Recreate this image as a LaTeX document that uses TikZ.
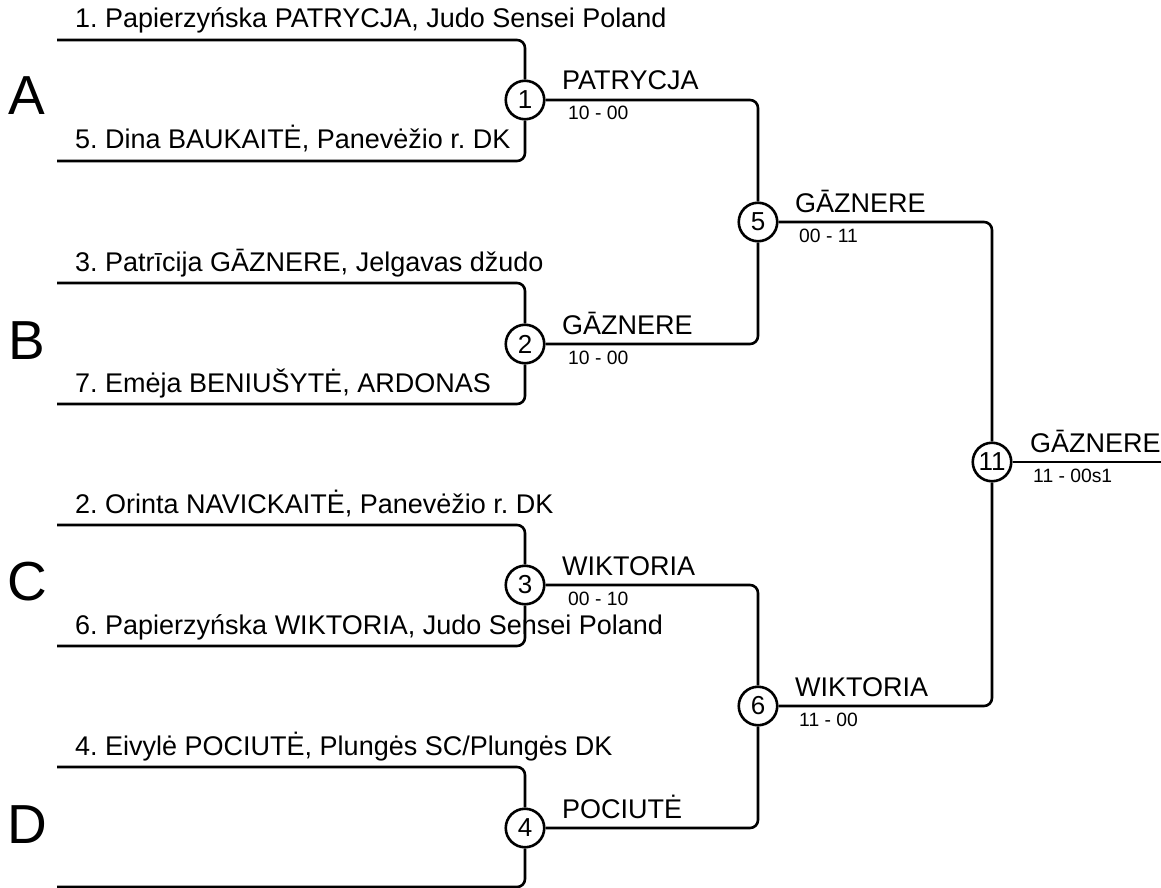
\documentclass[tikz,border=0pt]{standalone}
\usepackage{fontspec}
\setmainfont{Liberation Sans}
\frenchspacing
\begin{document}
\begin{tikzpicture}[x=1pt,y=-1pt,
  bline/.style={line width=2.6pt,rounded corners=8pt},
  bout/.style={circle,draw,line width=2.6pt,minimum size=38.5pt,inner sep=0pt,font=\fontsize{26}{26}\selectfont},
  player/.style={anchor=base west,inner sep=0pt,font=\fontsize{27}{28}\selectfont},
  winner/.style={anchor=base west,inner sep=0pt,font=\fontsize{27}{28}\selectfont},
  score/.style={anchor=base west,inner sep=0pt,font=\fontsize{19.3}{20}\selectfont},
  pool/.style={anchor=base,inner sep=0pt,font=\fontsize{55}{55}\selectfont}]
\useasboundingbox (0,0) rectangle (1161,888);
% start points
\coordinate (s1) at (57,40);
\coordinate (s5) at (57,161);
\coordinate (s3) at (57,283);
\coordinate (s7) at (57,404);
\coordinate (s2) at (57,525);
\coordinate (s6) at (57,646);
\coordinate (s4) at (57,767);
\coordinate (s8) at (57,887);
\coordinate (fin) at (1161,462);
% matches
\node[bout] (m1) at (525,100) {1};
\node[bout] (m2) at (525,344) {2};
\node[bout] (m3) at (525,585) {3};
\node[bout] (m4) at (525,828) {4};
\node[bout] (m5) at (758,222) {5};
\node[bout] (m6) at (758,706) {6};
\node[bout] (m11) at (992,462) {11};
% connectors
\draw[bline] (s1) -| (m1);
\draw[bline] (s5) -| (m1);
\draw[bline] (s3) -| (m2);
\draw[bline] (s7) -| (m2);
\draw[bline] (s2) -| (m3);
\draw[bline] (s6) -| (m3);
\draw[bline] (s4) -| (m4);
\draw[bline] (s8) -| (m4);
\draw[bline] (m1) -| (m5);
\draw[bline] (m2) -| (m5);
\draw[bline] (m3) -| (m6);
\draw[bline] (m4) -| (m6);
\draw[bline] (m5) -| (m11);
\draw[bline] (m6) -| (m11);
\draw[bline] (m11) -- (fin);
% pools
\node[pool] (pA) at (27,115) {A};
\node[pool] (pB) at (27,359) {B};
\node[pool] (pC) at (27,600) {C};
\node[pool] (pD) at (27,843) {D};
% names
\node[player] (n1) at (75,28) {1. Papierzyńska PATRYCJA, Judo Sensei Poland};
\node[player] (n5) at (75,149) {5. Dina BAUKAITĖ, Panevėžio r. DK};
\node[player] (n3) at (75,271) {3. Patrīcija GĀZNERE, Jelgavas džudo};
\node[player] (n7) at (75,392) {7. Emėja BENIUŠYTĖ, ARDONAS};
\node[player] (n2) at (75,513) {2. Orinta NAVICKAITĖ, Panevėžio r. DK};
\node[player] (n6) at (75,634) {6. Papierzyńska WIKTORIA, Judo Sensei Poland};
\node[player] (n4) at (75,755) {4. Eivylė POCIUTĖ, Plungės SC/Plungės DK};
% winners and scores
\node[winner] (w1) at (562,90) {PATRYCJA};
\node[score] (r1) at (568,120) {10 - 00};
\node[winner] (w2) at (562,334) {GĀZNERE};
\node[score] (r2) at (568,364) {10 - 00};
\node[winner] (w3) at (562,575) {WIKTORIA};
\node[score] (r3) at (568,605) {00 - 10};
\node[winner] (w4) at (562,818) {POCIUTĖ};
\node[winner] (w5) at (795,212) {GĀZNERE};
\node[score] (r5) at (799,242) {00 - 11};
\node[winner] (w6) at (795,696) {WIKTORIA};
\node[score] (r6) at (799,726) {11 - 00};
\node[winner] (w11) at (1030,452) {GĀZNERE};
\node[score] (r11) at (1033,482) {11 - 00s1};
\end{tikzpicture}
\end{document}
